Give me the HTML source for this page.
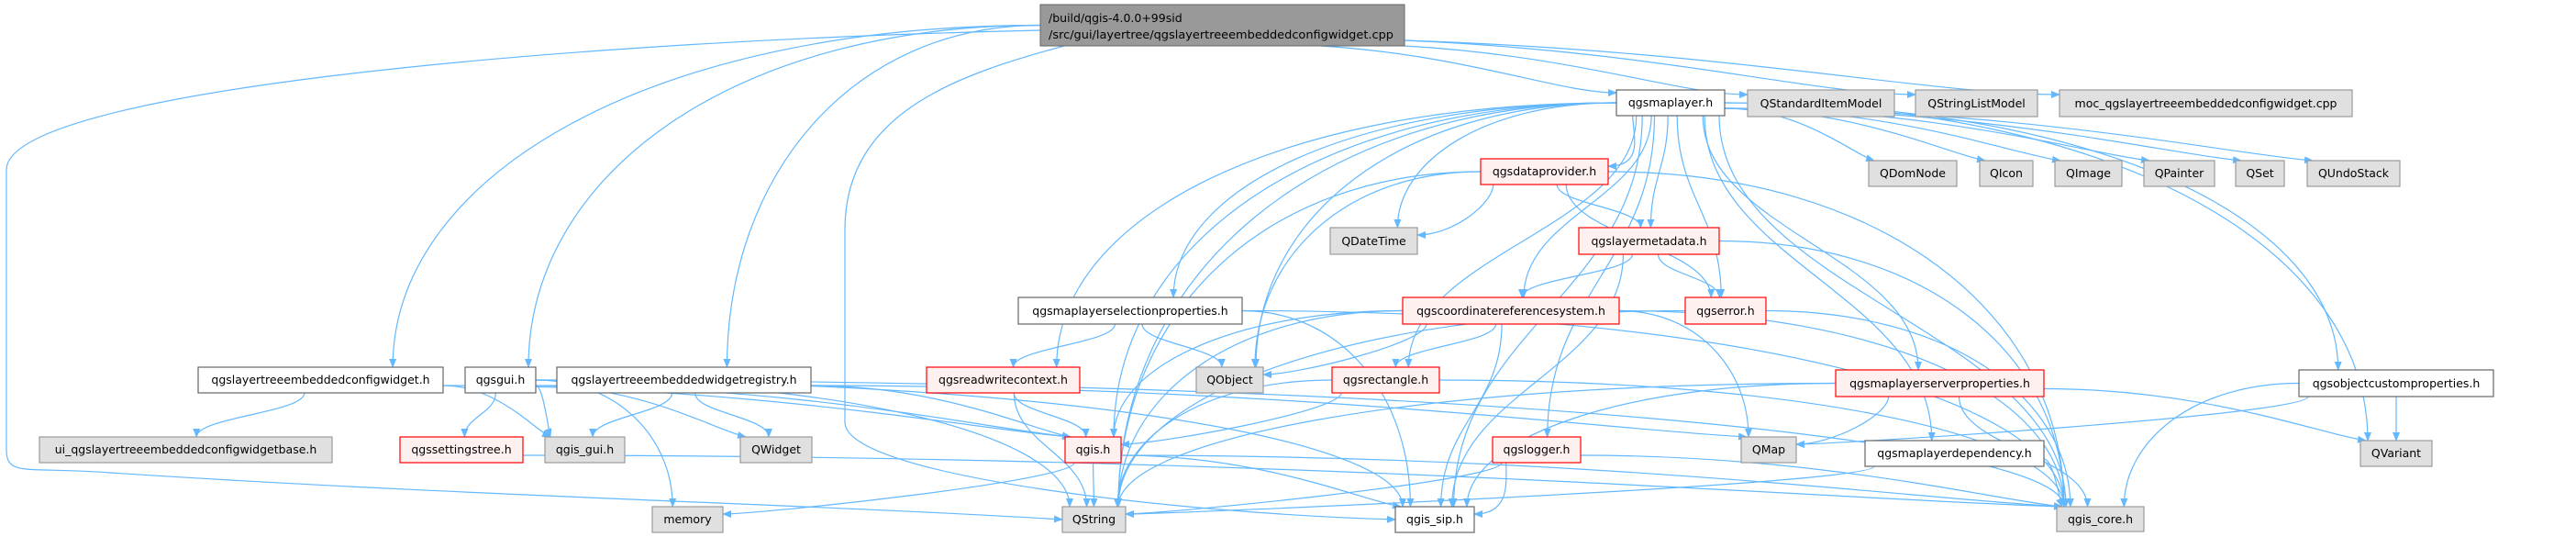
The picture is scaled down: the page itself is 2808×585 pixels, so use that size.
<!DOCTYPE html>
<html><head><meta charset="utf-8">
<style>
html,body{margin:0;padding:0;background:#fff;}
svg{display:block;}
text{font-family:"DejaVu Sans","Liberation Sans",sans-serif;font-size:12.5px;fill:#000;}
</style></head>
<body>
<svg id="g" width="2808" height="585" viewBox="0 0 2808 585" xmlns="http://www.w3.org/2000/svg">
<defs>
<marker id="ah" markerWidth="10" markerHeight="8" refX="9" refY="4" orient="auto" markerUnits="userSpaceOnUse">
<path d="M0,0 L10,4 L0,8 z" fill="#63b8ff"/>
</marker>
</defs>
<g id="edges" fill="none" stroke="#63b8ff" stroke-width="1.2"></g>
<g id="nodes">
<rect x="1134" y="5" width="397" height="45" fill="#999999" stroke="#666666"/>
<text x="1143" y="24">/build/qgis-4.0.0+99sid</text>
<text x="1143" y="42" textLength="376" lengthAdjust="spacingAndGlyphs">/src/gui/layertree/qgslayertreeembeddedconfigwidget.cpp</text>
</g>
</svg>
<script>
var N={
M:[1762,98,1880,126,'w','qgsmaplayer.h'],
QSIM:[1905,98,2065,127,'g','QStandardItemModel'],
QSLM:[2088,98,2221,127,'g','QStringListModel'],
MOC:[2245,98,2564,127,'g','moc_qgslayertreeembeddedconfigwidget.cpp'],
DP:[1614,173,1753,201,'r','qgsdataprovider.h'],
QDom:[2037,175,2133,203,'g','QDomNode'],
QIcon:[2158,175,2216,203,'g','QIcon'],
QImage:[2240,175,2313,203,'g','QImage'],
QPainter:[2337,175,2414,203,'g','QPainter'],
QSet:[2437,175,2490,203,'g','QSet'],
QUndo:[2515,175,2616,203,'g','QUndoStack'],
QDT:[1450,248,1545,277,'g','QDateTime'],
LM:[1721,248,1874,277,'r','qgslayermetadata.h'],
SP:[1110,324,1354,353,'w','qgsmaplayerselectionproperties.h'],
CRS:[1529,324,1765,353,'r','qgscoordinatereferencesystem.h'],
ERR:[1837,324,1925,353,'r','qgserror.h'],
CW:[216,400,483,428,'w','qgslayertreeembeddedconfigwidget.h'],
GUI:[507,400,584,428,'w','qgsgui.h'],
REG:[607,400,884,428,'w','qgslayertreeembeddedwidgetregistry.h'],
RWC:[1010,400,1177,428,'r','qgsreadwritecontext.h'],
QObj:[1304,400,1377,428,'g','QObject'],
RECT:[1452,400,1569,428,'r','qgsrectangle.h'],
SRV:[2001,403,2228,432,'r','qgsmaplayerserverproperties.h'],
OCP:[2506,403,2718,432,'w','qgsobjectcustomproperties.h'],
UI:[43,476,362,504,'g','ui_qgslayertreeembeddedconfigwidgetbase.h'],
SET:[436,476,570,504,'r','qgssettingstree.h'],
QGUI:[594,476,681,504,'g','qgis_gui.h'],
QW:[807,476,885,504,'g','QWidget'],
QGIS:[1161,476,1222,504,'r','qgis.h'],
LOG:[1627,476,1723,504,'r','qgslogger.h'],
QMap:[1898,476,1958,504,'g','QMap'],
DEP:[2033,480,2228,508,'w','qgsmaplayerdependency.h'],
QVar:[2573,480,2651,508,'g','QVariant'],
MEM:[711,552,788,580,'g','memory'],
QS:[1158,552,1227,580,'g','QString'],
SIP:[1521,552,1607,580,'w','qgis_sip.h'],
CORE:[2242,552,2337,579,'g','qgis_core.h']
};
N.T=[1134,5,1531,50];
var E=[
['T','M'],['T','QSIM'],['T','QSLM'],['T','MOC'],['T','CW'],['T','GUI'],['T','REG'],
['M','QDom'],['M','QIcon'],['M','QImage'],['M','QPainter'],['M','QSet'],['M','QUndo'],
['M','DP'],['M','QDT'],['M','LM'],['M','SP'],['M','CRS'],['M','ERR'],['M','RWC'],['M','QObj'],
['M','RECT'],['M','QGIS'],['M','LOG'],['M','QS'],['M','SIP'],['M','SRV'],['M','OCP'],['M','DEP'],['M','QVar'],['M','CORE'],
['CW','UI'],['CW','QGUI'],['CW','QGIS'],
['GUI','MEM'],['GUI','SET'],['GUI','QGUI'],['GUI','QW'],['GUI','QGIS'],['GUI','QS'],['GUI','SIP'],['GUI','CORE'],
['REG','QGUI'],['REG','QW'],['REG','QMap'],['REG','QGIS'],
['SET','CORE'],
['SP','RWC'],['SP','QObj'],['SP','SIP'],['SP','CORE'],
['RWC','QGIS'],['RWC','QS'],
['CRS','QObj'],['CRS','RECT'],['CRS','QGIS'],['CRS','QS'],['CRS','SIP'],['CRS','QMap'],['CRS','CORE'],
['ERR','QS'],['ERR','CORE'],
['RECT','QGIS'],['RECT','QS'],['RECT','CORE'],
['QGIS','MEM'],['QGIS','QS'],['QGIS','SIP'],['QGIS','CORE'],
['LOG','QS'],['LOG','SIP'],['LOG','CORE'],
['DP','QDT'],['DP','LM'],['DP','QObj'],['DP','ERR'],['DP','QS'],['DP','CORE'],
['LM','CRS'],['LM','ERR'],['LM','SIP'],['LM','CORE'],
['SRV','QMap'],['SRV','QS'],['SRV','SIP'],['SRV','CORE'],['SRV','QVar'],
['OCP','QMap'],['OCP','QVar'],['OCP','CORE'],
['DEP','QS'],['DEP','CORE']
];
var NS='http://www.w3.org/2000/svg';
var eg=document.getElementById('edges');
function path(d){var p=document.createElementNS(NS,'path');p.setAttribute('d',d);p.setAttribute('marker-end','url(#ah)');eg.appendChild(p);}
function cl(v,a,b){return Math.max(a,Math.min(b,v));}
E.forEach(function(e){
 var s=N[e[0]],t=N[e[1]];
 var scx=(s[0]+s[2])/2,tcx=(t[0]+t[2])/2;
 if(e[0]=='T' && t[1]<110){
   var sx=e[1]=='M'?1440:s[2], sy=e[1]=='M'?50:(e[1]=='QSIM'?50:44);
   var tx=t[0],ty=t[1]+(e[1]=='M'?3:5);
   path('M'+sx+','+sy+' C'+(sx+(tx-sx)*0.5)+','+(sy+(ty-sy)*0.2)+' '+(tx-(tx-sx)*0.2)+','+ty+' '+tx+','+ty);
   return;
 }
 if(t[1]<s[3]+55 && t[0]>s[2]){
   var sx=s[2],sy=(s[1]+s[3])/2+6;
   var tx=t[0]+6,ty=t[1];
   path('M'+sx+','+sy+' C'+(sx+(tx-sx)*0.5)+','+sy+' '+(tx-(tx-sx)*0.15)+','+(ty-8)+' '+tx+','+ty);
   return;
 }
 if(t[1]<s[3]+55 && t[2]<s[0]){
   var sx=cl(scx+(tcx-scx)*0.3,s[0]+10,s[2]-10),sy=s[3];
   var tx=t[2],ty=t[1]+8;
   path('M'+sx+','+sy+' C'+sx+','+(sy+20)+' '+(tx+40)+','+ty+' '+tx+','+ty);
   return;
 }
 var h=tcx-scx, dyy=t[1]-s[3];
 var tx=cl(tcx+(scx-tcx)*0.08,t[0]+8,t[2]-8),ty=t[1];
 if(Math.abs(h)>200 && Math.abs(h)>1.3*dyy){
   var sx=h<0?s[0]:s[2], sy=(s[1]+s[3])/2;
   path('M'+sx+','+sy+' C'+(sx+(tx-sx)*0.6)+','+sy+' '+tx+','+(ty-dyy*0.6)+' '+tx+','+ty);
   return;
 }
 var sx=cl(scx+h*0.12,s[0]+6,s[2]-6),sy=s[3];
 var dy=ty-sy;
 path('M'+sx+','+sy+' C'+sx+','+(sy+dy*0.45)+' '+tx+','+(ty-dy*0.45)+' '+tx+','+ty);
});
path('M1134,33 C600,45 7,100 7,185 L7,490 C7,520 30,508 120,515 C500,540 900,550 1158,566');
path('M1160,50 C1050,80 921,120 921,250 L921,460 C921,520 1300,560 1521,566');
var ng=document.getElementById('nodes');
var st={w:['#ffffff','#666666'],g:['#e0e0e0','#999999'],r:['#fff0f0','#ff0000']};
for(var k in N){var n=N[k];if(!n[5])continue;
 var r=document.createElementNS(NS,'rect');
 r.setAttribute('x',n[0]);r.setAttribute('y',n[1]);r.setAttribute('width',n[2]-n[0]);r.setAttribute('height',n[3]-n[1]);
 r.setAttribute('fill',st[n[4]][0]);r.setAttribute('stroke',st[n[4]][1]);r.setAttribute('stroke-width','1.2');
 ng.appendChild(r);
}
</script>
<div style="position:absolute;left:0;top:0;width:2808px;height:585px;pointer-events:none;font-family:'DejaVu Sans','Liberation Sans',sans-serif;font-size:12.5px;">
<span style="position:absolute;left:1762px;top:98px;width:118px;line-height:28px;text-align:center">qgsmaplayer.h</span>
<span style="position:absolute;left:1905px;top:98px;width:160px;line-height:29px;text-align:center">QStandardItemModel</span>
<span style="position:absolute;left:2088px;top:98px;width:133px;line-height:29px;text-align:center">QStringListModel</span>
<span style="position:absolute;left:2245px;top:98px;width:319px;line-height:29px;text-align:center">moc_qgslayertreeembeddedconfigwidget.cpp</span>
<span style="position:absolute;left:1614px;top:173px;width:139px;line-height:28px;text-align:center">qgsdataprovider.h</span>
<span style="position:absolute;left:2037px;top:175px;width:96px;line-height:28px;text-align:center">QDomNode</span>
<span style="position:absolute;left:2158px;top:175px;width:58px;line-height:28px;text-align:center">QIcon</span>
<span style="position:absolute;left:2240px;top:175px;width:73px;line-height:28px;text-align:center">QImage</span>
<span style="position:absolute;left:2337px;top:175px;width:77px;line-height:28px;text-align:center">QPainter</span>
<span style="position:absolute;left:2437px;top:175px;width:53px;line-height:28px;text-align:center">QSet</span>
<span style="position:absolute;left:2515px;top:175px;width:101px;line-height:28px;text-align:center">QUndoStack</span>
<span style="position:absolute;left:1450px;top:248px;width:95px;line-height:29px;text-align:center">QDateTime</span>
<span style="position:absolute;left:1721px;top:248px;width:153px;line-height:29px;text-align:center">qgslayermetadata.h</span>
<span style="position:absolute;left:1110px;top:324px;width:244px;line-height:29px;text-align:center">qgsmaplayerselectionproperties.h</span>
<span style="position:absolute;left:1529px;top:324px;width:236px;line-height:29px;text-align:center">qgscoordinatereferencesystem.h</span>
<span style="position:absolute;left:1837px;top:324px;width:88px;line-height:29px;text-align:center">qgserror.h</span>
<span style="position:absolute;left:216px;top:400px;width:267px;line-height:28px;text-align:center">qgslayertreeembeddedconfigwidget.h</span>
<span style="position:absolute;left:507px;top:400px;width:77px;line-height:28px;text-align:center">qgsgui.h</span>
<span style="position:absolute;left:607px;top:400px;width:277px;line-height:28px;text-align:center">qgslayertreeembeddedwidgetregistry.h</span>
<span style="position:absolute;left:1010px;top:400px;width:167px;line-height:28px;text-align:center">qgsreadwritecontext.h</span>
<span style="position:absolute;left:1304px;top:400px;width:73px;line-height:28px;text-align:center">QObject</span>
<span style="position:absolute;left:1452px;top:400px;width:117px;line-height:28px;text-align:center">qgsrectangle.h</span>
<span style="position:absolute;left:2001px;top:403px;width:227px;line-height:29px;text-align:center">qgsmaplayerserverproperties.h</span>
<span style="position:absolute;left:2506px;top:403px;width:212px;line-height:29px;text-align:center">qgsobjectcustomproperties.h</span>
<span style="position:absolute;left:43px;top:476px;width:319px;line-height:28px;text-align:center">ui_qgslayertreeembeddedconfigwidgetbase.h</span>
<span style="position:absolute;left:436px;top:476px;width:134px;line-height:28px;text-align:center">qgssettingstree.h</span>
<span style="position:absolute;left:594px;top:476px;width:87px;line-height:28px;text-align:center">qgis_gui.h</span>
<span style="position:absolute;left:807px;top:476px;width:78px;line-height:28px;text-align:center">QWidget</span>
<span style="position:absolute;left:1161px;top:476px;width:61px;line-height:28px;text-align:center">qgis.h</span>
<span style="position:absolute;left:1627px;top:476px;width:96px;line-height:28px;text-align:center">qgslogger.h</span>
<span style="position:absolute;left:1898px;top:476px;width:60px;line-height:28px;text-align:center">QMap</span>
<span style="position:absolute;left:2033px;top:480px;width:195px;line-height:28px;text-align:center">qgsmaplayerdependency.h</span>
<span style="position:absolute;left:2573px;top:480px;width:78px;line-height:28px;text-align:center">QVariant</span>
<span style="position:absolute;left:711px;top:552px;width:77px;line-height:28px;text-align:center">memory</span>
<span style="position:absolute;left:1158px;top:552px;width:69px;line-height:28px;text-align:center">QString</span>
<span style="position:absolute;left:1521px;top:552px;width:86px;line-height:28px;text-align:center">qgis_sip.h</span>
<span style="position:absolute;left:2242px;top:552px;width:95px;line-height:27px;text-align:center">qgis_core.h</span>
</div>
</body></html>
